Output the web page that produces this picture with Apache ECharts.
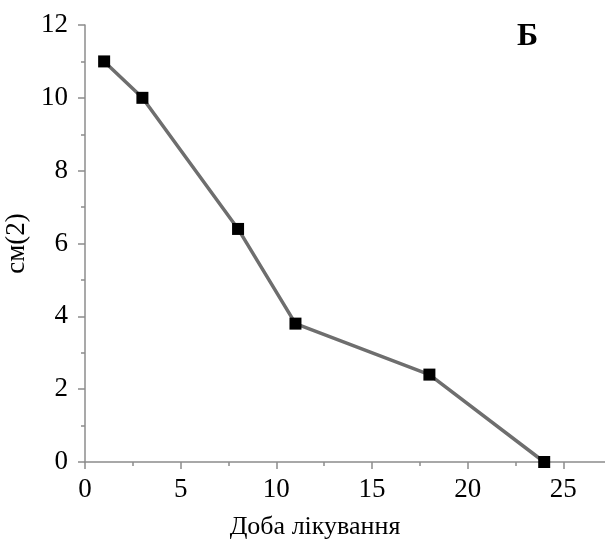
<!DOCTYPE html>
<html>
<head>
<meta charset="utf-8">
<script src="https://cdn.jsdelivr.net/npm/echarts@6/dist/echarts.min.js"></script>
<style>
html,body{margin:0;padding:0;background:#fff;}
#chart{width:605px;height:539px;}
</style>
</head>
<body>
<div id="chart"></div>
<script>
var days = [1, 3, 8, 11, 18, 24];
var areaValues = [11, 10, 6.4, 3.8, 2.4, 0];
var xAxisTitle = 'Доба лікування';
var yAxisTitle = 'см(2)';
var panelLabel = 'Б';

var serif = '"Liberation Serif", "DejaVu Serif", serif';
var axisGray = '#8c8c8c';

var chart = echarts.init(document.getElementById('chart'), null, {renderer: 'canvas'});
chart.setOption({
  backgroundColor: '#ffffff',
  animation: false,
  title: {
    text: panelLabel,
    left: 512,
    top: 16,
    textStyle: {fontFamily: serif, fontSize: 32, fontWeight: 'bold', color: '#000'}
  },
  grid: {left: 85, top: 25, right: -54, bottom: 77, containLabel: false, outerBoundsMode: 'none'},
  xAxis: {
    type: 'value',
    min: 0, max: 30, interval: 5,
    name: xAxisTitle,
    nameLocation: 'middle',
    nameGap: 52,
    nameTextStyle: {fontFamily: serif, fontSize: 26, color: '#000', align: 'center', padding: [0, 114, 0, 0]},
    splitLine: {show: false},
    axisLine: {show: true, onZero: false, lineStyle: {color: axisGray, width: 1.5}},
    axisTick: {show: true, inside: false, length: 7, lineStyle: {color: axisGray, width: 1.5}},
    minorTick: {show: true, splitNumber: 2, length: 4, lineStyle: {color: axisGray, width: 1.5}},
    axisLabel: {fontFamily: serif, fontSize: 27, color: '#000', margin: 14}
  },
  yAxis: {
    type: 'value',
    min: 0, max: 12, interval: 2,
    name: yAxisTitle,
    nameLocation: 'middle',
    nameGap: 50,
    nameRotate: 90,
    nameTextStyle: {fontFamily: serif, fontSize: 27, color: '#000'},
    splitLine: {show: false},
    axisLine: {show: true, onZero: false, lineStyle: {color: axisGray, width: 1.5}},
    axisTick: {show: true, inside: false, length: 7, lineStyle: {color: axisGray, width: 1.5}},
    minorTick: {show: true, splitNumber: 2, length: 4, lineStyle: {color: axisGray, width: 1.5}},
    axisLabel: {fontFamily: serif, fontSize: 27, color: '#000', margin: 17}
  },
  series: [{
    type: 'line',
    data: days.map(function (d, i) { return [d, areaValues[i]]; }),
    symbol: 'rect',
    symbolSize: 12,
    itemStyle: {color: '#000'},
    lineStyle: {color: '#6e6e6e', width: 3.5},
    z: 3
  }]
});
</script>
</body>
</html>
